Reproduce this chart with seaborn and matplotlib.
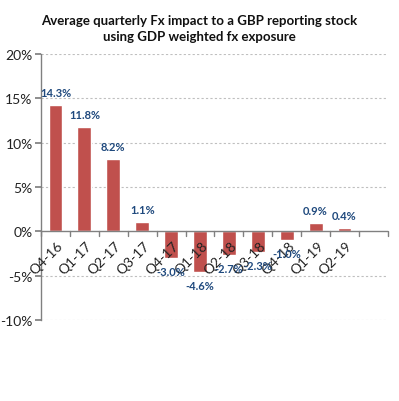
import matplotlib
matplotlib.use("Agg")
import matplotlib.pyplot as plt
import seaborn as sns
import pandas as pd
from matplotlib.ticker import FuncFormatter, MultipleLocator

categories = ["Q4-16", "Q1-17", "Q2-17", "Q3-17", "Q4-17", "Q1-18", "Q2-18",
              "Q3-18", "Q4-18", "Q1-19", "Q2-19", ""]
values = [14.3, 11.8, 8.2, 1.1, -3.0, -4.6, -2.7, -2.3, -1.0, 0.9, 0.4, None]
value_labels = ["14.3%", "11.8%", "8.2%", "1.1%", "-3.0%", "-4.6%", "-2.7%",
                "-2.3%", "-1.0%", "0.9%", "0.4%", ""]
title = "Average quarterly Fx impact to a GBP reporting stock\nusing GDP weighted fx exposure"

sns.set_theme(style="white")
plt.rcParams['font.family'] = ['Lato', 'DejaVu Sans']

df = pd.DataFrame({"cat": categories, "val": values})

fig = plt.figure(figsize=(3.99, 4.02), dpi=100)
ax = fig.add_axes([0.1028, 0.2015, 0.8692, 0.6615])
sns.barplot(data=df, x="cat", y="val", order=categories, color="#C0504D",
            saturation=1, width=0.48, ax=ax)

ax.set_ylim(-10, 20)
ax.set_xlim(-0.5, len(categories) - 0.5)
ax.yaxis.set_major_locator(MultipleLocator(5))
ax.yaxis.set_major_formatter(FuncFormatter(lambda v, p: f"{v:.0f}%"))
ax.set_xlabel("")
ax.set_ylabel("")

for y in range(-10, 21, 5):
    if y != 0:
        ax.axhline(y, color="#BFBFBF", lw=0.8, ls=(0, (2, 2)), zorder=0)
ax.axhline(0, color="#808080", lw=1.0, zorder=3)

for s in ["top", "right", "bottom"]:
    ax.spines[s].set_visible(False)
ax.spines["left"].set_color("#808080")
ax.spines["left"].set_linewidth(1.0)

# x tick marks at category boundaries on the zero line
for b in range(len(categories) + 1):
    xb = b - 0.5
    ax.plot([xb, xb], [0, -0.55], color="#808080", lw=1.0, zorder=3, clip_on=False)

ax.tick_params(axis="y", which="major", left=True, length=4, color="#808080",
               labelsize=10, pad=2, labelcolor="#222222")
ax.tick_params(axis="x", bottom=False, labelbottom=False)

for i, c in enumerate(categories):
    if c:
        ax.text(i + 0.05, -0.9, c, rotation=45, ha="right", va="top",
                rotation_mode="anchor", fontsize=10, color="#222222")

for i, (v, lab) in enumerate(zip(values, value_labels)):
    if v is None:
        continue
    if v >= 0:
        ax.text(i, v + 0.8, lab, ha="center", va="bottom", fontsize=8,
                fontweight="bold", color="#1F497D", zorder=5)
    else:
        ax.text(i, v - 0.9, lab, ha="center", va="top", fontsize=8,
                fontweight="bold", color="#1F497D", zorder=5)

fig.text(0.5, 0.962, title, ha="center", va="top", fontsize=9.5,
         fontweight="bold", linespacing=1.4, color="#111111")

fig.savefig("out.png", dpi=100)
